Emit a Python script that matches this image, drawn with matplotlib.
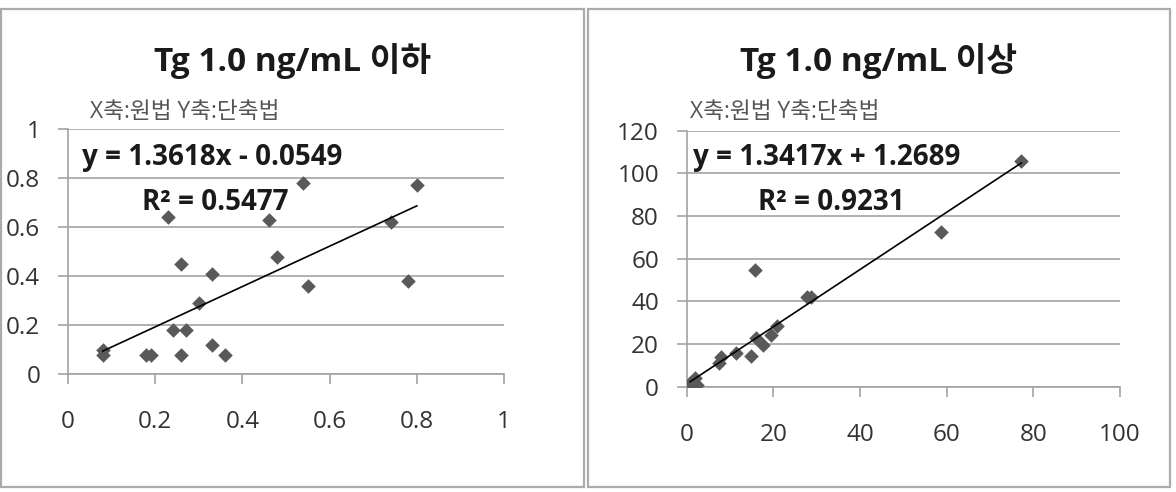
import matplotlib
matplotlib.use("Agg")
import matplotlib.pyplot as plt
from matplotlib.patches import Rectangle
import numpy as np

plt.rcParams["font.family"] = ["Open Sans", "Noto Sans CJK KR", "DejaVu Sans"]

# left panel: Tg <= 1.0 ng/mL (x: 원법, y: 단축법)
low_x = [0.08, 0.08, 0.18, 0.19, 0.23, 0.24, 0.26, 0.27, 0.26, 0.30, 0.33, 0.33,
         0.36, 0.46, 0.48, 0.54, 0.55, 0.74, 0.78, 0.80]
low_y = [0.10, 0.08, 0.08, 0.08, 0.64, 0.18, 0.45, 0.18, 0.08, 0.29, 0.41, 0.12,
         0.08, 0.63, 0.48, 0.78, 0.36, 0.62, 0.38, 0.77]
low_fit = (0.822, 0.029)  # line as drawn in the picture
low_ticks = [0, 0.2, 0.4, 0.6, 0.8, 1]
low_ticklabels = ["0", "0.2", "0.4", "0.6", "0.8", "1"]

# right panel: Tg >= 1.0 ng/mL
high_x = [0.8, 1.2, 1.9, 2.3, 7.5, 7.9, 11.4, 14.8, 15.8, 16.0, 17.5, 19.4,
          20.9, 27.7, 28.8, 58.6, 77.2]
high_y = [1.6, 2.3, 3.9, 0.8, 11.3, 14.1, 15.6, 14.4, 54.7, 22.7, 19.5, 24.2,
          28.4, 42.2, 42.2, 72.5, 106.0]
high_fit = (1.3417, 1.2689)
high_xticks = [0, 20, 40, 60, 80, 100]
high_yticks = [0, 20, 40, 60, 80, 100, 120]

titles = ["Tg 1.0 ng/mL 이하", "Tg 1.0 ng/mL 이상"]
axis_note = "X축:원법 Y축:단축법"
equations = ["y = 1.3618x - 0.0549", "y = 1.3417x + 1.2689"]
r2_labels = ["R² = 0.5477", "R² = 0.9231"]

W, H = 1176, 492
fig = plt.figure(figsize=(W / 100, H / 100), dpi=100)


def fx(px):
    return px / W


def fy(py):
    return 1 - py / H


# panel frames
for x0, x1, y0, y1 in [(1.5, 584, 9, 486.5), (588, 1170, 9, 487)]:
    fig.patches.append(Rectangle((fx(x0), fy(y1)), fx(x1 - x0), (y1 - y0) / H,
                                 transform=fig.transFigure, fill=False,
                                 edgecolor="#ababab", linewidth=1.6))

grid_c = "#a3a3a3"


def style_axes(ax):
    for s in ["top", "right"]:
        ax.spines[s].set_visible(False)
    for s in ["left", "bottom"]:
        ax.spines[s].set_color(grid_c)
        ax.spines[s].set_linewidth(1.2)
    ax.grid(axis="y", color=grid_c, linewidth=1.2)
    ax.set_axisbelow(True)
    ax.tick_params(axis="both", direction="out", color=grid_c, width=1.2, length=7,
                   labelsize=17.5, labelcolor="#333333")
    ax.tick_params(axis="x", pad=19)
    ax.tick_params(axis="y", pad=13)


ax1 = fig.add_axes([fx(68), fy(374.3), fx(504 - 68), (374.3 - 129) / H])
ax1.scatter(low_x, low_y, marker="D", s=55, color="#595959", zorder=3, linewidths=0)
xs = np.array([min(low_x), max(low_x)])
ax1.plot(xs, low_fit[0] * xs + low_fit[1], color="black", linewidth=1.2, zorder=4)
ax1.set_xlim(0, 1)
ax1.set_ylim(0, 1)
ax1.set_xticks(low_ticks)
ax1.set_xticklabels(low_ticklabels)
ax1.set_yticks(low_ticks)
ax1.set_yticklabels(low_ticklabels)
style_axes(ax1)

ax2 = fig.add_axes([fx(686.7), fy(386.7), fx(1120 - 686.7), (386.7 - 130.7) / H])
ax2.scatter(high_x, high_y, marker="D", s=55, color="#595959", zorder=3, linewidths=0)
xs = np.array([min(high_x), max(high_x)])
ax2.plot(xs, high_fit[0] * xs + high_fit[1], color="black", linewidth=1.2, zorder=4)
ax2.set_xlim(0, 100)
ax2.set_ylim(0, 120)
ax2.set_xticks(high_xticks)
ax2.set_yticks(high_yticks)
style_axes(ax2)

# titles and annotations
for cx, title in zip([292, 879], titles):
    fig.text(fx(cx), fy(61), title, ha="center", va="center", fontsize=24,
             fontweight="bold", color="#1a1a1a")
for lx in [90, 690]:
    fig.text(fx(lx), fy(112), axis_note, ha="left", va="center", fontsize=16.3,
             color="#555555")
for lx, ly, eq in [(82, 157, equations[0]), (693, 158, equations[1])]:
    fig.text(fx(lx), fy(ly), eq, ha="left", va="center", fontsize=20,
             fontweight="bold", color="#1a1a1a")
for lx, ly, r2 in [(142, 202, r2_labels[0]), (758, 203, r2_labels[1])]:
    fig.text(fx(lx), fy(ly), r2, ha="left", va="center", fontsize=20,
             fontweight="bold", color="#1a1a1a")

fig.savefig("out.png", dpi=100)
